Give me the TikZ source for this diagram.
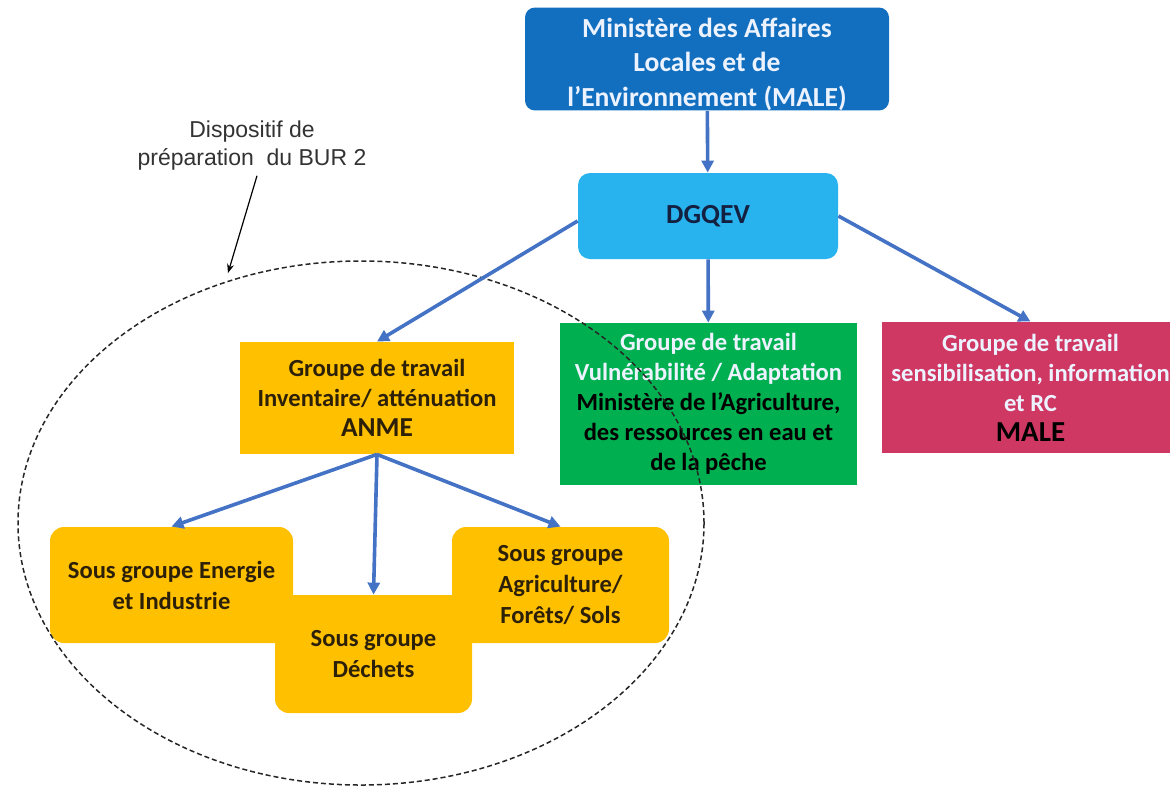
\documentclass[tikz,border=0pt]{standalone}
\usepackage{fontspec}
\setmainfont{Carlito}
\newfontfamily\notefont{Liberation Sans}
\usetikzlibrary{arrows.meta,calc}
\definecolor{MaleClr}{RGB}{18,110,190}
\definecolor{DgqevClr}{RGB}{40,178,238}
\definecolor{AnmeClr}{RGB}{255,192,0}
\definecolor{VulnClr}{RGB}{0,176,80}
\definecolor{SensClr}{RGB}{208,56,100}
\definecolor{LinkClr}{RGB}{68,114,196}
\definecolor{NavyClr}{RGB}{20,32,64}
\definecolor{BrownClr}{RGB}{45,32,8}
\definecolor{PaleClr}{RGB}{236,243,255}

\begin{document}
\begin{tikzpicture}[x=0.5pt,y=-0.5pt,
  box/.style={align=center,inner sep=0pt,font=\fontsize{12.3}{15}\selectfont\bfseries},
  subbox/.style={box,fill=AnmeClr,text=BrownClr,rounded corners=7pt,font=\fontsize{12.3}{15.5}\selectfont\bfseries},
  link/.style={LinkClr,line width=1.8pt,-{Triangle[length=6pt,width=6pt]}}]

\clip (0,0) rectangle (1170,788);

\node[box,fill=MaleClr,text=PaleClr,rounded corners=5pt,minimum width=182pt,minimum height=51pt,
  font=\fontsize{13.8}{17.2}\selectfont\bfseries] (male) at (707,59)
  {\rule{0pt}{15pt}Ministère des Affaires\\Locales et de\\l’Environnement (MALE)};
\node[box,fill=DgqevClr,text=NavyClr,rounded corners=6pt,minimum width=130pt,minimum height=43pt,
  font=\fontsize{13.8}{16}\selectfont\bfseries] (dgqev) at (708,216) {DGQEV};

\node[box,fill=AnmeClr,text=BrownClr,minimum width=137pt,minimum height=56pt] (anme) at (377,398)
  {Groupe de travail\\Inventaire/ atténuation\\{\fontsize{13.7}{15}\selectfont ANME}};
\node[box,fill=VulnClr,text=black,minimum width=148.5pt,minimum height=81pt] (vuln) at (708.5,404)
  {\textcolor{PaleClr}{Groupe de travail}\\\textcolor{PaleClr}{Vulnérabilité / Adaptation}\\Ministère de l’Agriculture,\\des ressources en eau et\\de la pêche};
\node[box,fill=SensClr,text=black,minimum width=148.5pt,minimum height=65.5pt] (sens) at (1030.5,387.5)
  {\textcolor{PaleClr}{Groupe de travail}\\\textcolor{PaleClr}{sensibilisation, information}\\\textcolor{PaleClr}{et RC}\\{\fontsize{14.5}{15}\selectfont MALE}};

\node[subbox,minimum width=121.5pt,minimum height=58pt] (energie) at (171.5,585)
  {Sous groupe Energie\\et Industrie};
\node[subbox,minimum width=108.5pt,minimum height=58pt] (agri) at (560.5,585)
  {Sous groupe\\Agriculture/\\Forêts/ Sols};
\node[subbox,minimum width=98.5pt,minimum height=59pt] (dechets) at (373.5,654)
  {Sous groupe\\Déchets};

\draw[black!85,line width=0.75pt,dash pattern=on 2.5pt off 1.5pt] (361,523) ellipse [x radius=171.5pt,y radius=131pt];

\node[font=\notefont\fontsize{11.5}{14}\selectfont,text=black!80,align=center] (note) at (252,146)
  {Dispositif de\\préparation\ \ du BUR 2};
\coordinate (tip) at (228,273);
\draw[black,line width=0.6pt,-{Stealth[length=4.5pt,width=3.5pt]}] ($(note.south)+(5,-2)$) -- (tip);

\draw[link] (male) -- (dgqev);
\draw[link] ($(dgqev.west)+(0,5)$) -- (anme.north);
\draw[link] (dgqev) -- (vuln);
\draw[link] (dgqev.east) -- (sens.north);

\draw[link] (anme.south) -- (energie.north);
\draw[link] (anme.south) -- (dechets.north);
\draw[link] (anme.south) -- (agri.north);

\end{tikzpicture}
\end{document}
